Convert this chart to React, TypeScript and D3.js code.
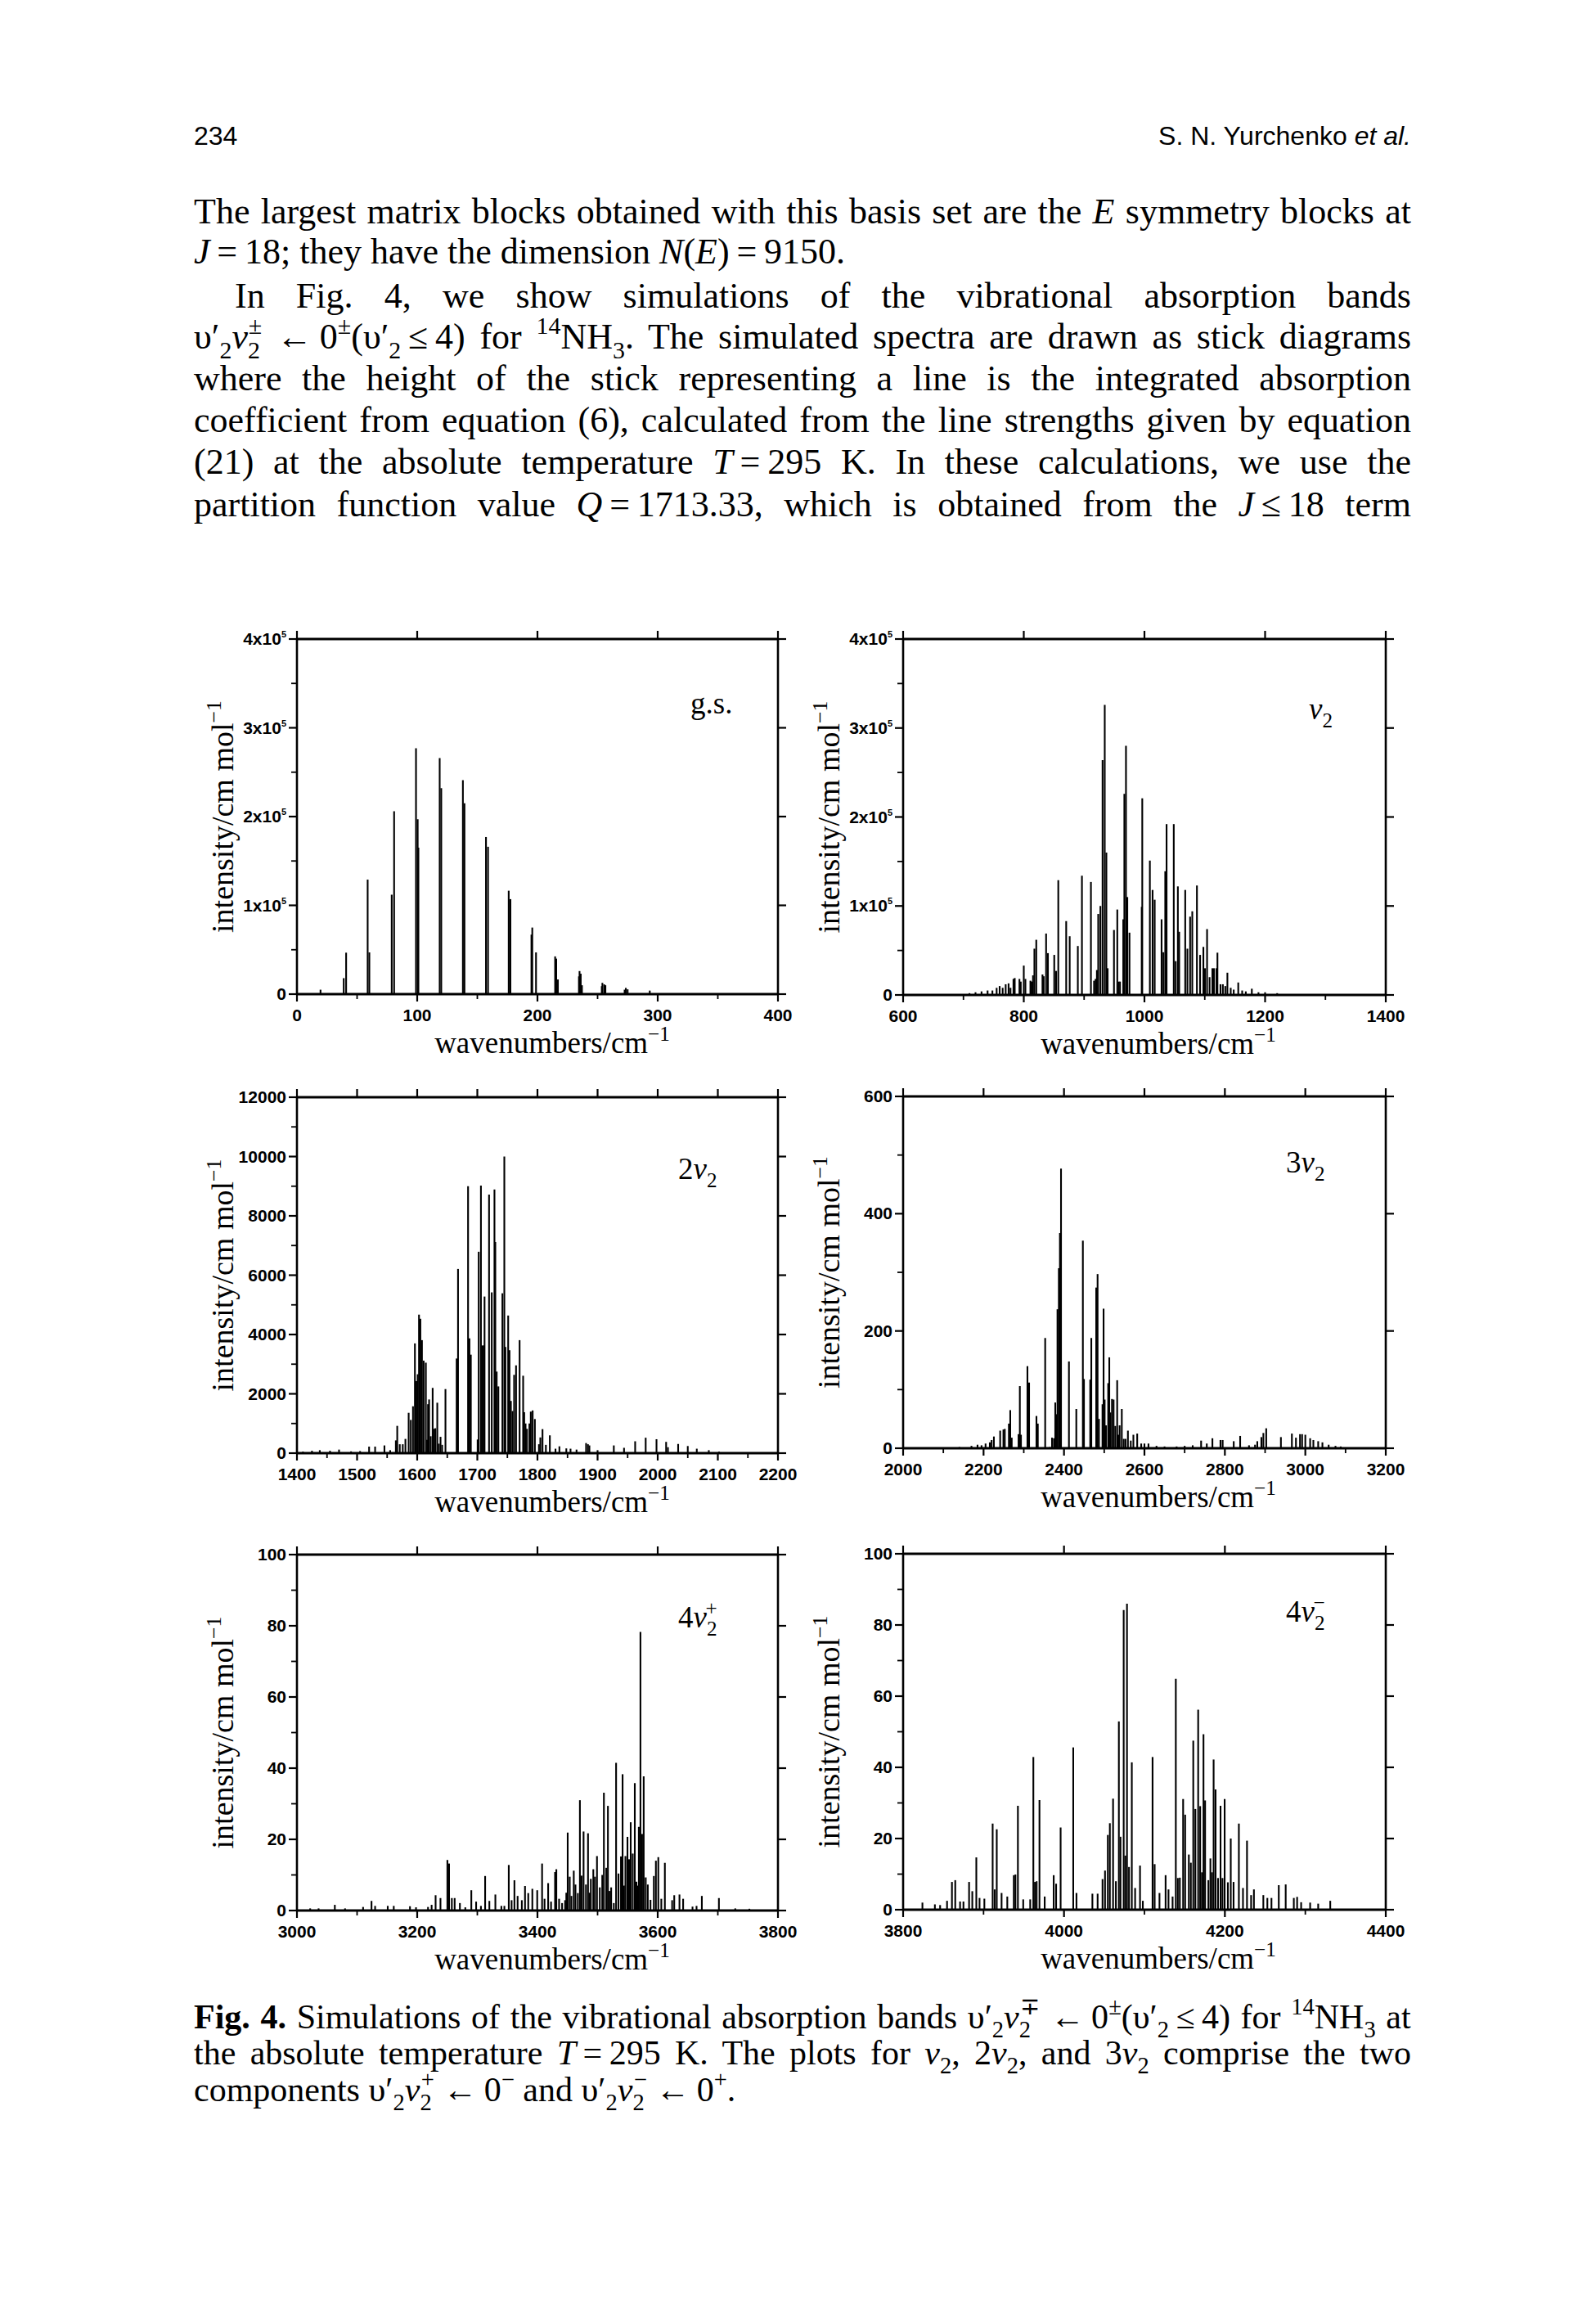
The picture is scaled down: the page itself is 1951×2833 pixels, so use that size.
import React, { useLayoutEffect, useRef, useState } from 'react';
import * as d3 from 'd3';

// ---------------- DATA (wavenumber cm^-1, intensity cm/mol) ----------------
const gsLines: [number, number][] = [
  [19.6, 5000], [38.9, 18000], [40.9, 46700], [58.8, 129000], [60.2, 47000], [78.8, 112000], [80.8, 206000],
  [99.0, 277000], [100.4, 197000], [101.0, 165000], [118.7, 266000], [120.0, 232000], [138.0, 241000],
  [139.3, 215000], [157.2, 177000], [158.9, 166000], [176.1, 116500], [177.5, 107000], [195.0, 67000],
  [195.7, 75000], [198.8, 47000], [214.7, 42500], [215.6, 40000], [217.0, 16500], [234.5, 20000],
  [235.0, 26000], [236.0, 23000], [237.0, 10000], [253.5, 9000], [254.0, 12700], [255.5, 11000],
  [256.5, 10000], [272.5, 5000], [273.5, 7000], [275.0, 5400], [293.4, 4000],
];

const nu2Lines: [number, number][] = [
  [710, 2000], [720, 3000], [730, 4000], [740, 5000], [748, 5000], [755, 8000], [760, 10000], [765, 8000],
  [770, 12000], [774.8, 13000], [778, 8000], [782.9, 18000], [785, 19000], [792.8, 18000], [795, 15000],
  [800, 33000], [802.7, 18000], [811, 16000], [813, 15000], [815.3, 22000], [817.6, 52000], [820.7, 62000],
  [831, 23000], [833, 21000], [837, 69000], [840, 47000], [850.5, 45000], [853.6, 27000], [857.2, 129000],
  [870.3, 83000], [876.1, 66000], [889.6, 55000], [896.4, 134000], [911.3, 127000], [916.5, 16000],
  [919, 18000], [921.2, 28000], [923.4, 91000], [927, 100000], [930.6, 264000], [934.2, 326000],
  [936.9, 160000], [939, 30000], [949.5, 73000], [955, 96000], [957.2, 15000], [959.5, 15000],
  [964.9, 85000], [966.7, 226000], [969.4, 280000], [971.6, 110000], [975.2, 70000], [995.5, 99000],
  [996.4, 221000], [1009, 151000], [1013.5, 118000], [1017, 107000], [1028.4, 85000], [1031.5, 48000],
  [1034.5, 139000], [1036.7, 192000], [1048.6, 192000], [1051.8, 38000], [1055.4, 122000], [1057.6, 71000],
  [1067.6, 118000], [1071.2, 52000], [1075.7, 88000], [1079.3, 94000], [1087, 123000], [1092.3, 45000],
  [1097.7, 54000], [1100.4, 30000], [1103.8, 74000], [1108, 20000], [1112.6, 30000], [1115.3, 30000],
  [1119.4, 30000], [1121, 47500], [1126, 12000], [1130, 12000], [1134, 10000], [1137.5, 25000],
  [1143, 8000], [1148, 6000], [1155.5, 14000], [1162, 5000], [1168, 4000], [1178, 7000], [1189, 3000],
  [1200, 3000], [1220, 2000],
];

const twoNu2Lines: [number, number][] = [
  [1410, 50], [1425, 80], [1438, 100], [1455, 80], [1470, 120], [1490, 60], [1505, 70], [1520, 220],
  [1530, 220], [1545.5, 260], [1555, 100], [1564.5, 430], [1566.8, 920], [1571, 300], [1576, 300],
  [1580.4, 480], [1585.8, 1360], [1589.4, 1120], [1593, 1580], [1596.2, 3700], [1598.5, 2430],
  [1600.8, 2660], [1603, 4670], [1605.3, 4530], [1607.9, 3810], [1610.7, 3120], [1614.4, 3050],
  [1616.5, 450], [1618, 1650], [1619.8, 1810], [1622.5, 570], [1625.7, 2200], [1628, 820], [1630.2, 840],
  [1633.4, 1700], [1636, 320], [1638.8, 550], [1641.5, 280], [1647, 2160], [1665.6, 3190], [1667.9, 6210],
  [1684.6, 9000], [1686.9, 3870], [1689.2, 3320], [1700.5, 460], [1702.3, 6790], [1706, 9020],
  [1708.2, 3630], [1710.4, 3630], [1712, 5280], [1719.5, 8720], [1724, 5420], [1728.5, 8890],
  [1729.9, 7120], [1732.2, 2750], [1735, 2250], [1741.7, 5390], [1744.9, 10000], [1746.7, 3580],
  [1751.3, 4640], [1753.5, 3470], [1755.8, 1760], [1758.5, 1420], [1761.2, 2640], [1764.4, 2960],
  [1770.3, 3810], [1776.2, 2610], [1778, 1380], [1780.2, 1000], [1782.5, 820], [1786.6, 1000],
  [1788.9, 1400], [1792, 1440], [1795.7, 1150], [1802.5, 300], [1804.8, 530], [1808.4, 810], [1814, 280],
  [1820.6, 600], [1830, 150], [1836.5, 230], [1848, 160], [1855, 150], [1865, 120], [1880.9, 340],
  [1884, 300], [1886.4, 260], [1900, 100], [1927, 260], [1944, 180], [1962.5, 400], [1980, 520],
  [1998, 470], [2014, 380], [2017, 200], [2034, 310], [2050, 240], [2065, 150], [2085, 100], [2102, 50],
];

const threeNu2Lines: [number, number][] = [
  [2140, 2], [2170, 4], [2185, 6], [2195, 5], [2205, 8], [2215.6, 10], [2220, 14], [2225.7, 20],
  [2241.3, 30], [2249.4, 32], [2252.8, 33], [2263, 42], [2266.4, 65], [2270, 18], [2287, 24],
  [2290.2, 106], [2293, 23], [2309.1, 140], [2313.2, 112], [2331.5, 55], [2334.9, 42], [2353.2, 188],
  [2365, 2], [2370.2, 18], [2375, 17], [2378.3, 78], [2381, 58], [2383.8, 237], [2387.2, 307],
  [2389.9, 367], [2392.6, 477], [2412.3, 148], [2430.6, 67], [2446.9, 354], [2449.6, 118], [2465.2, 117],
  [2467.9, 188], [2480.1, 274], [2483.5, 297], [2486.9, 50], [2495.7, 75], [2498.4, 238], [2501.1, 83],
  [2504.5, 39], [2509.9, 111], [2512.6, 155], [2515.3, 61], [2519.3, 84], [2523.3, 83], [2527.4, 38],
  [2532.2, 116], [2535, 23], [2538.3, 39], [2543.7, 67], [2548.5, 16], [2553, 16], [2558.9, 30],
  [2566, 13], [2572.5, 23], [2582, 25], [2592, 8], [2600, 8], [2610, 8], [2630, 4], [2650, 3], [2680, 3],
  [2700, 4], [2720, 5], [2740.9, 13], [2755, 8], [2769, 17], [2789, 14], [2794.5, 14], [2822, 12],
  [2838, 21], [2860, 5], [2875, 6], [2880.6, 12], [2890.7, 19], [2895.7, 26], [2902.8, 34], [2939.3, 19],
  [2966.6, 25], [2976.7, 18], [2986.8, 24], [2992, 24], [3000, 23], [3012, 17], [3020, 14], [3032, 12],
  [3042.5, 10], [3058, 6], [3075, 4], [3088, 3],
];

const fourNu2PlusLines: [number, number][] = [
  [3022, 0.6], [3036, 0.6], [3063, 1.6], [3080, 0.6], [3110, 1.0], [3124, 2.7], [3130, 1.3], [3151, 1.3],
  [3161, 1.3], [3188, 1.2], [3198, 0.9], [3218, 1.0], [3224, 1.6], [3230.6, 4.3], [3238.7, 3.5],
  [3250.2, 14.2], [3253, 13.2], [3257.6, 3.5], [3262.3, 3.5], [3271, 2.1], [3280, 0.9], [3290, 5.7],
  [3298, 2.5], [3306, 1.3], [3313, 9.7], [3320, 2.7], [3330, 4.5], [3340, 1.3], [3345, 1.3], [3352.3, 12.8],
  [3357, 2.9], [3361.7, 8.5], [3367, 4.1], [3374, 2.9], [3379.3, 6.9], [3384.7, 4.9], [3391.5, 6.1],
  [3399.6, 5.7], [3407.7, 13.2], [3411.8, 3.3], [3417.8, 7.7], [3422.6, 2.5], [3429.3, 10.8],
  [3431.4, 11.6], [3436, 3.3], [3441, 2.1], [3446, 2.9], [3448, 5.0], [3450.3, 21.9], [3453.7, 9.5],
  [3456.4, 4.1], [3460.4, 11.2], [3463.2, 7.3], [3467.2, 4.9], [3470.6, 31.0], [3473.3, 9.8],
  [3476.7, 22.2], [3480.7, 7.3], [3484.1, 21.7], [3486.5, 5.0], [3488.8, 8.9], [3492.9, 11.6],
  [3495.6, 9.5], [3499, 15.3], [3503.7, 6.5], [3507.8, 10], [3510.5, 33.1], [3514.5, 12], [3517.2, 29.4],
  [3520, 5.5], [3522.6, 6.5], [3527, 2.1], [3530.8, 41.5], [3534.8, 10.4], [3538.9, 15.2], [3541.6, 38.3],
  [3544, 7.0], [3546.3, 15.3], [3549.7, 20.7], [3552.4, 14.4], [3555.1, 24.8], [3558.5, 16],
  [3561.9, 35.8], [3564.6, 8.1], [3566.5, 7.0], [3568.6, 23.5], [3571.3, 78.3], [3574, 21.5],
  [3576.7, 37.7], [3580.1, 9.3], [3583.5, 7.3], [3588, 3.0], [3593.6, 9.7], [3597, 14], [3601, 15],
  [3606, 3.3], [3611.9, 13.4], [3624, 2.9], [3627.5, 4.3], [3636.2, 4.5], [3642.3, 3.3], [3657.9, 1.1],
  [3664.6, 1.3], [3673.4, 4.1], [3701.8, 3.5], [3729, 0.6], [3752.5, 0.5],
];

const fourNu2MinusLines: [number, number][] = [
  [3824, 2.0], [3839.5, 1.5], [3846, 1.3], [3854.6, 2.5], [3860.7, 7.8], [3864.8, 8.3], [3870.8, 2.3],
  [3875, 2.3], [3882, 7.8], [3886, 5.2], [3891, 14.7], [3895, 3.3], [3901, 3.1], [3911.3, 24.2],
  [3913.8, 5.7], [3916.4, 22.6], [3922.4, 4.7], [3929.5, 3.7], [3937.6, 9.7], [3939.6, 9.9],
  [3942.7, 29.2], [3949.3, 2.9], [3958, 2.9], [3961.9, 42.9], [3963.9, 7.8], [3966, 8.0], [3969.5, 30.8],
  [3976, 3.7], [3987.2, 9.7], [3990.2, 7.3], [3995.8, 23.1], [4011.5, 45.6], [4015.5, 4.7], [4035.3, 4.5],
  [4041.8, 4.5], [4047.9, 8.6], [4051, 11], [4054.5, 21], [4057, 24.3], [4061, 31.2], [4064.5, 8.0],
  [4068.2, 52.9], [4070.2, 20.5], [4074.2, 84.2], [4076.2, 15.2], [4078.3, 86], [4080.8, 12],
  [4084.3, 41.4], [4088.4, 6.1], [4094.5, 12.4], [4098, 2.5], [4110.1, 42.9], [4112.7, 12.8],
  [4118.7, 4.7], [4126.3, 9.7], [4129.9, 5.7], [4135, 3.7], [4139, 64.9], [4141.5, 8.9], [4144, 9.0],
  [4148.1, 31.1], [4150.6, 26.7], [4155.2, 15.5], [4157.7, 13.2], [4160.7, 47.5], [4163.3, 28.3],
  [4166.8, 56.2], [4169.3, 29.1], [4171.5, 10.5], [4173.4, 49.3], [4175.4, 30.7], [4179.5, 8.3],
  [4182, 14.4], [4184, 10.5], [4186, 42.2], [4188.4, 33.8], [4191.5, 8.9], [4194.6, 29.2], [4197, 8.9],
  [4199.7, 31.1], [4203.7, 7.7], [4207.3, 20], [4210.8, 7.8], [4217.4, 24.2], [4222.5, 6.1],
  [4227.5, 19.4], [4232.6, 4.1], [4236.1, 5.7], [4247.8, 4.1], [4252.8, 3.3], [4257.9, 3.3], [4267, 6.9],
  [4275.6, 7.1], [4285.7, 3.3], [4289.8, 3.6], [4294.8, 2.1], [4306, 2.0], [4316, 1.7], [4331, 2.5],
];

// tick values
const gsXTicks = [0, 100, 200, 300, 400];
const gsYTicks = [0, 100000, 200000, 300000, 400000];
const nu2XTicks = [600, 800, 1000, 1200, 1400];
const nu2YTicks = [0, 100000, 200000, 300000, 400000];
const twoNu2XTicks = [1400, 1500, 1600, 1700, 1800, 1900, 2000, 2100, 2200];
const twoNu2YTicks = [0, 2000, 4000, 6000, 8000, 10000, 12000];
const threeNu2XTicks = [2000, 2200, 2400, 2600, 2800, 3000, 3200];
const threeNu2YTicks = [0, 200, 400, 600];
const fourPlusXTicks = [3000, 3200, 3400, 3600, 3800];
const fourMinusXTicks = [3800, 4000, 4200, 4400];
const fourYTicks = [0, 20, 40, 60, 80, 100];

// ---------------- TEXT HELPERS ----------------
type Seg = { t: string; i?: boolean; b?: boolean; sub?: boolean; sup?: boolean; dx?: number };
const N = (t: string): Seg => ({ t });
const I = (t: string): Seg => ({ t, i: true });
const S = (t: string): Seg => ({ t, sub: true });
const P = (t: string, dx?: number): Seg => ({ t, sup: true, dx });

const SERIF = "'Liberation Serif', 'Times New Roman', serif";
const SANS = "'Liberation Sans', Arial, sans-serif";
const TS = '\u2009';

function Line(props: { x: number; y: number; fs: number; segs: Seg[]; width?: number; family?: string; anchor?: string; transform?: string }) {
  const { x, y, fs, segs, width, family, anchor, transform } = props;
  const ref = useRef<SVGTextElement>(null);
  const [ws, setWs] = useState(0);
  useLayoutEffect(() => {
    if (!width || !ref.current) return;
    const natural = ref.current.getBBox().width;
    const spaces = segs.reduce((a, s) => a + (s.t.match(/ /g) || []).length, 0);
    if (spaces > 0) setWs((width - natural) / spaces);
  }, []);
  let cur = 0;
  return (
    <text
      ref={ref}
      x={x}
      y={y}
      fontSize={fs}
      fontFamily={family || SERIF}
      textAnchor={anchor}
      transform={transform}
      style={{ whiteSpace: 'pre', wordSpacing: ws ? `${ws}px` : undefined }}
      fill="#000"
    >
      {segs.map((s, k) => {
        const target = s.sub ? fs * 0.27 : s.sup ? -fs * 0.4 : 0;
        const dy = target - cur;
        cur = target;
        return (
          <tspan
            key={k}
            dy={dy !== 0 ? dy : undefined}
            dx={s.dx}
            fontStyle={s.i ? 'italic' : undefined}
            fontWeight={s.b ? 'bold' : undefined}
            fontSize={s.sub || s.sup ? fs * 0.68 : undefined}
          >
            {s.t}
          </tspan>
        );
      })}
    </text>
  );
}

// ---------------- PANEL ----------------
type PanelCfg = {
  left: number; top: number; width: number; height: number;
  xTicks: number[]; xMinor: number; yTicks: number[]; yMinor: number;
  exp?: boolean; data: [number, number][]; label: Seg[]; labelX: number; labelY: number;
};

function Panel({ c }: { c: PanelCfg }) {
  const right = c.left + c.width;
  const bottom = c.top + c.height;
  const xd: [number, number] = [c.xTicks[0], c.xTicks[c.xTicks.length - 1]];
  const yd: [number, number] = [c.yTicks[0], c.yTicks[c.yTicks.length - 1]];
  const x = d3.scaleLinear().domain(xd).range([c.left, right]);
  const y = d3.scaleLinear().domain(yd).range([bottom, c.top]);
  const xMin = d3.range(xd[0], xd[1] + 1e-9, c.xMinor).filter((v) => !c.xTicks.includes(v));
  const yMin = d3.range(yd[0], yd[1] + 1e-9, c.yMinor).filter((v) => !c.yTicks.includes(v));
  const sw = 2.6;
  const cy = (c.top + bottom) / 2;
  return (
    <g>
      {c.data.map(([wn, v], k) => (
        <line key={k} x1={x(wn)} x2={x(wn)} y1={y(0)} y2={y(v)} stroke="#000" strokeWidth={2.1} />
      ))}
      <line x1={c.left} x2={c.left} y1={c.top} y2={bottom} stroke="#000" strokeWidth={sw} />
      <line x1={right} x2={right} y1={c.top} y2={bottom} stroke="#000" strokeWidth={sw} />
      <line x1={c.left} x2={right} y1={c.top} y2={c.top} stroke="#000" strokeWidth={sw + 0.6} />
      <line x1={c.left} x2={right} y1={bottom} y2={bottom} stroke="#000" strokeWidth={sw + 0.6} />
      {c.xTicks.map((v) => (
        <line key={'xb' + v} x1={x(v)} x2={x(v)} y1={bottom} y2={bottom + 9} stroke="#000" strokeWidth={2.2} />
      ))}
      {xMin.map((v) => (
        <line key={'xm' + v} x1={x(v)} x2={x(v)} y1={bottom} y2={bottom + 6} stroke="#000" strokeWidth={1.8} />
      ))}
      {c.xTicks.map((v) => (
        <line key={'xt' + v} x1={x(v)} x2={x(v)} y1={c.top} y2={c.top - 10} stroke="#000" strokeWidth={2.2} />
      ))}
      {c.yTicks.map((v) => (
        <line key={'yl' + v} x1={c.left} x2={c.left - 10} y1={y(v)} y2={y(v)} stroke="#000" strokeWidth={2.2} />
      ))}
      {yMin.map((v) => (
        <line key={'ym' + v} x1={c.left} x2={c.left - 7} y1={y(v)} y2={y(v)} stroke="#000" strokeWidth={1.8} />
      ))}
      {c.yTicks.map((v) => (
        <line key={'yr' + v} x1={right} x2={right + 10} y1={y(v)} y2={y(v)} stroke="#000" strokeWidth={2.2} />
      ))}
      {c.xTicks.map((v) => (
        <text key={'xl' + v} x={x(v)} y={bottom + 33} fontSize={21} fontWeight="bold" fontFamily={SANS} textAnchor="middle">
          {v}
        </text>
      ))}
      {c.yTicks.map((v) =>
        c.exp && v !== 0 ? (
          <text key={'yt' + v} x={c.left - 13} y={y(v) + 7} fontSize={21} fontWeight="bold" fontFamily={SANS} textAnchor="end" style={{ whiteSpace: 'pre' }}>
            <tspan>{`${v / 100000}x10`}</tspan>
            <tspan dy={-9} fontSize={11}>5</tspan>
          </text>
        ) : (
          <text key={'yt' + v} x={c.left - 13} y={y(v) + 7} fontSize={21} fontWeight="bold" fontFamily={SANS} textAnchor="end">
            {v}
          </text>
        )
      )}
      <Line x={c.left + 312} y={bottom + 72} fs={37} anchor="middle" segs={[N('wavenumbers/cm'), P('−1')]} />
      <Line
        x={0}
        y={0}
        fs={38}
        anchor="middle"
        transform={`translate(${c.left - 78},${cy}) rotate(-90)`}
        segs={[N('intensity/cm mol'), P('−1')]}
      />
      <Line x={c.labelX} y={c.labelY} fs={37} segs={c.label} />
    </g>
  );
}

const panels: PanelCfg[] = [
  { left: 363, top: 781, width: 588, height: 434, xTicks: gsXTicks, xMinor: 50, yTicks: gsYTicks, yMinor: 50000, exp: true, data: gsLines, label: [N('g.s.')], labelX: 844, labelY: 872 },
  { left: 1104, top: 781, width: 590, height: 435, xTicks: nu2XTicks, xMinor: 100, yTicks: nu2YTicks, yMinor: 50000, exp: true, data: nu2Lines, label: [I('ν'), S('2')], labelX: 1600, labelY: 879 },
  { left: 363, top: 1341, width: 588, height: 435, xTicks: twoNu2XTicks, xMinor: 50, yTicks: twoNu2YTicks, yMinor: 1000, data: twoNu2Lines, label: [N('2'), I('ν'), S('2')], labelX: 829, labelY: 1441 },
  { left: 1104, top: 1340, width: 590, height: 430, xTicks: threeNu2XTicks, xMinor: 100, yTicks: threeNu2YTicks, yMinor: 100, data: threeNu2Lines, label: [N('3'), I('ν'), S('2')], labelX: 1572, labelY: 1433 },
  { left: 363, top: 1900, width: 588, height: 435, xTicks: fourPlusXTicks, xMinor: 100, yTicks: fourYTicks, yMinor: 10, data: fourNu2PlusLines, label: [N('4'), I('ν'), S('2'), P('+', -14)], labelX: 829, labelY: 1989 },
  { left: 1104, top: 1899, width: 590, height: 435, xTicks: fourMinusXTicks, xMinor: 100, yTicks: fourYTicks, yMinor: 10, data: fourNu2MinusLines, label: [N('4'), I('ν'), S('2'), P('−', -14)], labelX: 1572, labelY: 1982 },
];

// ---------------- PAGE TEXT ----------------
const FS = 44;
const bodyLines: { x: number; y: number; w?: number; segs: Seg[] }[] = [
  { x: 237, y: 273, w: 1488, segs: [N('The largest matrix blocks obtained with this basis set are the '), I('E'), N(' symmetry blocks at')] },
  { x: 237, y: 322, segs: [I('J'), N(TS + '=' + TS + '18; they have the dimension '), I('N'), N('('), I('E'), N(')' + TS + '=' + TS + '9150.')] },
  { x: 287, y: 376, w: 1438, segs: [N('In Fig. 4, we show simulations of the vibrational absorption bands')] },
  {
    x: 237, y: 426, w: 1488,
    segs: [N('υ′'), S('2'), I('ν'), S('2'), P('±', -14), N(' ←' + TS + '0'), P('±'), N('(υ′'), S('2'), N(TS + '≤' + TS + '4) for '), P('14'), N('NH'), S('3'), N('. The simulated spectra are drawn as stick diagrams')],
  },
  { x: 237, y: 477, w: 1488, segs: [N('where the height of the stick representing a line is the integrated absorption')] },
  { x: 237, y: 528, w: 1488, segs: [N('coefficient from equation (6), calculated from the line strengths given by equation')] },
  { x: 237, y: 579, w: 1488, segs: [N('(21) at the absolute temperature '), I('T'), N(TS + '=' + TS + '295 K. In these calculations, we use the')] },
  { x: 237, y: 631, w: 1488, segs: [N('partition function value '), I('Q'), N(TS + '=' + TS + '1713.33, which is obtained from the '), I('J'), N(TS + '≤' + TS + '18 term')] },
];

const CFS = 42;
const captionLines: { x: number; y: number; w?: number; segs: Seg[] }[] = [
  {
    x: 237, y: 2479, w: 1488,
    segs: [{ t: 'Fig. 4.', b: true }, N(' Simulations of the vibrational absorption bands υ′'), S('2'), I('ν'), S('2'), P('∓', -13), N(' ←' + TS + '0'), P('±'), N('(υ′'), S('2'), N(TS + '≤' + TS + '4) for '), P('14'), N('NH'), S('3'), N(' at')],
  },
  {
    x: 237, y: 2523, w: 1488,
    segs: [N('the absolute temperature '), I('T'), N(TS + '=' + TS + '295 K. The plots for '), I('ν'), S('2'), N(', 2'), I('ν'), S('2'), N(', and 3'), I('ν'), S('2'), N(' comprise the two')],
  },
  {
    x: 237, y: 2568,
    segs: [N('components υ′'), S('2'), I('ν'), S('2'), P('+', -13), N(' ←' + TS + '0'), P('−'), N(' and υ′'), S('2'), I('ν'), S('2'), P('−', -13), N(' ←' + TS + '0'), P('+'), N('.')],
  },
];

export default function App() {
  return (
    <svg width={1951} height={2833} style={{ position: 'absolute', left: 0, top: 0, background: '#fff' }}>
      <rect x={0} y={0} width={1951} height={2833} fill="#fff" />
      <text x={237} y={177} fontSize={32} fontFamily={SANS}>234</text>
      <text x={1725} y={177} fontSize={32} fontFamily={SANS} textAnchor="end" style={{ whiteSpace: 'pre' }}>
        <tspan>S. N. Yurchenko </tspan>
        <tspan fontStyle="italic">et al.</tspan>
      </text>
      {bodyLines.map((l, k) => (
        <Line key={'b' + k} x={l.x} y={l.y} fs={FS} width={l.w} segs={l.segs} />
      ))}
      {panels.map((c, k) => (
        <Panel key={'p' + k} c={c} />
      ))}
      {captionLines.map((l, k) => (
        <Line key={'c' + k} x={l.x} y={l.y} fs={CFS} width={l.w} segs={l.segs} />
      ))}
    </svg>
  );
}
